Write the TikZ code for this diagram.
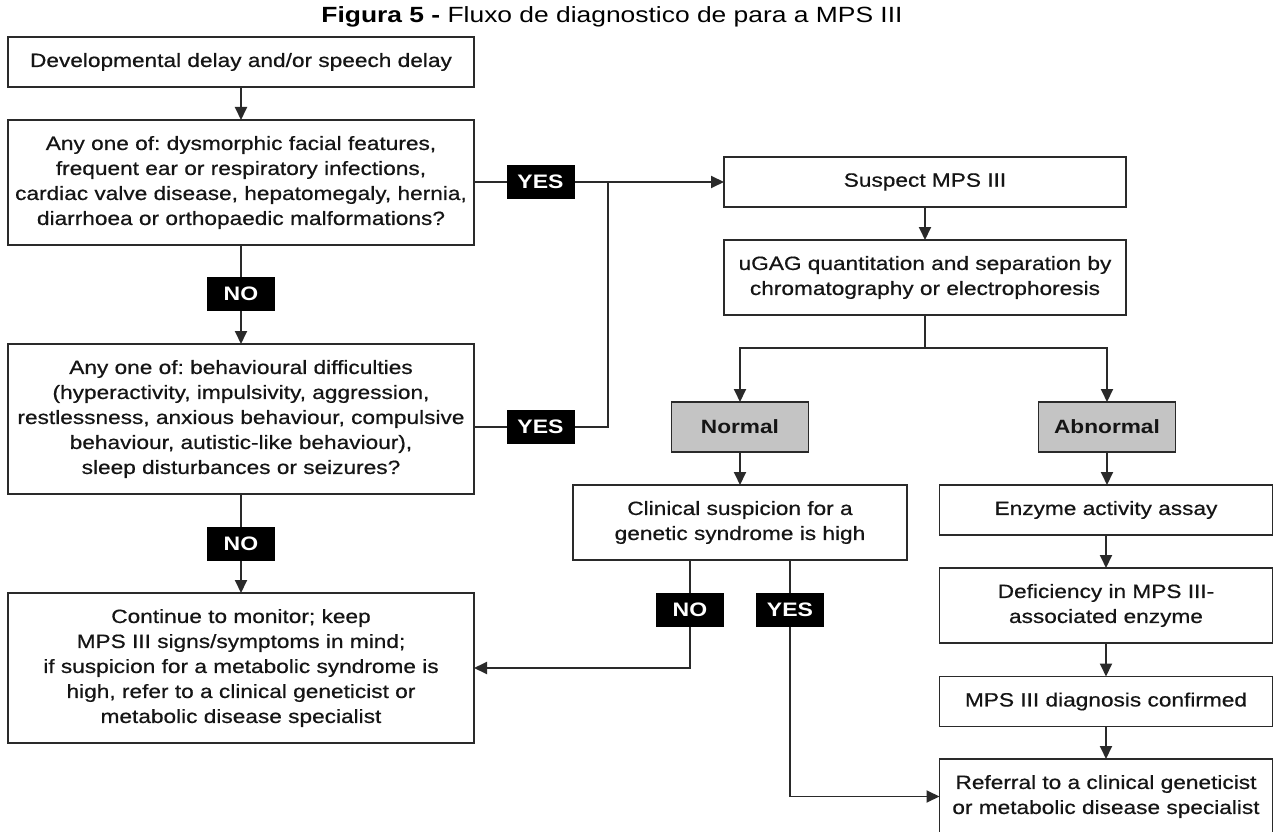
\documentclass[tikz,border=0pt]{standalone}
\usepackage{fontspec}
\setmainfont{Liberation Sans}[FakeStretch=1.18,UprightFeatures={FakeBold=0.6}]
\newfontfamily\headfont{Liberation Sans}[FakeStretch=1.2]
\usetikzlibrary{arrows.meta}
\definecolor{ink}{HTML}{2A2A2A}
\definecolor{txt}{HTML}{151515}
\definecolor{shade}{HTML}{C4C4C4}
\frenchspacing
\begin{document}
\begin{tikzpicture}[x=1pt,y=-1pt,
  line width=1.9pt,
  every node/.style={inner sep=0pt,outer sep=0pt},
  box/.style={draw=ink,fill=white,align=center,text=txt,
    font=\fontsize{19.2}{25}\selectfont},
  result/.style={box,fill=shade,font=\fontsize{19.2}{25}\selectfont\bfseries},
  tag/.style={fill=black,text=white,minimum width=68pt,minimum height=34pt,
    font=\fontsize{19.5}{22}\selectfont\bfseries},
  link/.style={draw=ink},
  arr/.style={draw=ink,-{Triangle[length=13pt,width=12pt]}}]
\clip (0,0) rectangle (1278,832);
\fill[white] (0,0) rectangle (1278,832);

% title
\node[font=\headfont\fontsize{22}{26}\selectfont,text=black] (title) at (612,17)
  {\textbf{Figura 5 -} Fluxo de diagnostico de para a MPS III};

% left column
\node[box,minimum width=466pt,minimum height=50pt] (A) at (241,62)
  {Developmental delay and/or speech delay};
\node[box,minimum width=466pt,minimum height=125pt] (B) at (241,182.5)
  {Any one of: dysmorphic facial features,\\
   frequent ear or respiratory infections,\\
   cardiac valve disease, hepatomegaly, hernia,\\
   diarrhoea or orthopaedic malformations?};
\node[box,minimum width=466pt,minimum height=150pt] (C) at (241,419)
  {Any one of: behavioural difficulties\\
   (hyperactivity, impulsivity, aggression,\\
   restlessness, anxious behaviour, compulsive\\
   behaviour, autistic-like behaviour),\\
   sleep disturbances or seizures?};
\node[box,minimum width=466pt,minimum height=150pt] (D) at (241,668)
  {Continue to monitor; keep\\
   MPS III signs/symptoms in mind;\\
   if suspicion for a metabolic syndrome is\\
   high, refer to a clinical geneticist or\\
   metabolic disease specialist};

\node[tag] (no1) at (241,294) {NO};
\node[tag] (no2) at (241,543.5) {NO};
\node[tag] (yes1) at (540.5,182) {YES};
\node[tag] (yes2) at (540.5,427) {YES};

% middle and right columns
\node[box,minimum width=402pt,minimum height=50pt] (S) at (925,182)
  {Suspect MPS III};
\node[box,minimum width=402pt,minimum height=75pt] (U) at (925,277.5)
  {uGAG quantitation and separation by\\ chromatography or electrophoresis};
\node[result,minimum width=137pt,minimum height=50pt] (N) at (740,427) {Normal};
\node[result,minimum width=137pt,minimum height=50pt] (Ab) at (1107,427) {Abnormal};
\node[box,minimum width=334pt,minimum height=75pt] (Cl) at (740,522.5)
  {Clinical suspicion for a\\ genetic syndrome is high};
\node[box,minimum width=333pt,minimum height=50pt] (E) at (1106,510)
  {Enzyme activity assay};
\node[box,minimum width=333pt,minimum height=75pt] (Def) at (1106,605.5)
  {Deficiency in MPS III-\\ associated enzyme};
\node[box,minimum width=333pt,minimum height=50pt] (Conf) at (1106,701.5)
  {MPS III diagnosis confirmed};
\node[box,minimum width=333pt,minimum height=75pt] (Ref) at (1106,796.5)
  {Referral to a clinical geneticist\\ or metabolic disease specialist};

\node[tag] (no3) at (690,610) {NO};
\node[tag] (yes3) at (790,610) {YES};

\coordinate (join) at (608,182);
\coordinate (split) at (925,348);

% connectors, left column
\draw[arr] (A.south) -- (B.north);
\draw[link] (B.south) -- (no1.north);
\draw[arr] (no1.south) -- (C.north);
\draw[link] (C.south) -- (no2.north);
\draw[arr] (no2.south) -- (D.north);
\draw[link] (B.east |- yes1) -- (yes1.west);
\draw[arr] (yes1.east) -- (S.west);
\draw[link] (C.east |- yes2) -- (yes2.west);
\draw[link] (yes2.east) -| (join);

% connectors, right part
\draw[arr] (S.south) -- (U.north);
\draw[link] (U.south) -- (split);
\draw[arr] (split) -| (N.north);
\draw[arr] (split) -| (Ab.north);
\draw[arr] (N.south) -- (Cl.north);
\draw[arr] (Ab.south) -- (E.north -| Ab.south);
\draw[arr] (E.south) -- (Def.north);
\draw[arr] (Def.south) -- (Conf.north);
\draw[arr] (Conf.south) -- (Ref.north);
\draw[link] (Cl.south -| no3) -- (no3.north);
\draw[arr] (no3.south) |- (D.east);
\draw[link] (Cl.south -| yes3) -- (yes3.north);
\draw[arr] (yes3.south) |- (Ref.west);
\end{tikzpicture}
\end{document}
